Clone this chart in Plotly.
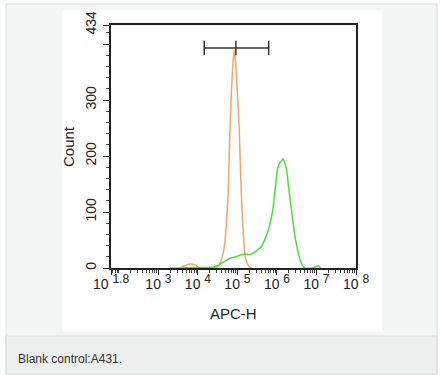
import plotly.graph_objects as go

# ---- data ----
# blank control (orange) histogram: APC-H values and counts
orange_x = [2.0e3, 3.2e3, 4.0e3, 5.0e3, 6.3e3, 8.0e3, 1.0e4, 1.26e4, 2.0e4, 2.5e4,
            3.2e4, 3.6e4, 4.2e4, 4.8e4, 5.2e4, 5.8e4, 6.3e4, 6.9e4, 7.6e4, 8.3e4,
            9.1e4, 1.0e5, 1.1e5, 1.2e5, 1.32e5, 1.45e5, 1.58e5, 1.78e5, 2.0e5, 2.24e5]
orange_y = [0, 0, 2, 5, 7, 6, 2, 0, 0, 0,
            3, 8, 22, 45, 75, 130, 220, 300, 360, 389,
            362, 310, 255, 170, 95, 45, 20, 8, 2, 0]

# sample (green) histogram
green_x = [4.0e3, 6.3e3, 1.0e4, 1.6e4, 2.5e4, 3.2e4, 4.0e4, 5.0e4, 6.3e4, 8.0e4,
           1.0e5, 1.26e5, 1.58e5, 2.0e5, 2.5e5, 3.2e5, 4.0e5, 5.0e5, 6.3e5, 8.0e5,
           1.0e6, 1.12e6, 1.26e6, 1.41e6, 1.58e6, 1.78e6, 2.0e6, 2.4e6, 2.8e6, 3.2e6,
           3.7e6, 4.3e6, 4.9e6, 8.0e6, 1.0e7, 1.12e7, 1.26e7]
green_y = [0, 1, 1, 1, 2, 4, 9, 13, 17, 19,
           21, 24, 25, 24, 26, 32, 38, 52, 72, 108,
           170, 185, 190, 195, 188, 172, 140, 98, 60, 38,
           18, 6, 0, 0, 3, 4, 0]

# marker gate (bracket)
gate_low, gate_mid, gate_high = 10 ** 4.16, 10 ** 4.96, 10 ** 5.79
gate_y, gate_cap = 393, 13

# axis ticks
x_tickvals = [10 ** 1.8, 1e3, 1e4, 1e5, 1e6, 1e7, 1e8]
x_exponents = ["1.8", "3", "4", "5", "6", "7", "8"]
x_ticktext = ["10 <sup><span style='font-size:12px'>%s</span></sup>" % e for e in x_exponents]
y_tickvals = [0, 100, 200, 300, 400, 434]
y_ticktext = ["0", "100", "200", "300", "", "434"]

caption = "Blank control:A431."

# ---- geometry helpers (figure pixels -> paper coords) ----
W, H = 440, 375
L, R, T, B = 111, 84, 25, 107
pw, ph = W - L - R, H - T - B


def px(x):
    return (x - L) / pw


def py(y):
    return (H - B - y) / ph


FONT = "Liberation Sans, Arial, sans-serif"

fig = go.Figure()

fig.add_trace(go.Scatter(x=orange_x, y=orange_y, mode="lines",
                         line=dict(color="#f2a46c", width=1.5, shape="spline", smoothing=0.4),
                         hoverinfo="skip", showlegend=False))
fig.add_trace(go.Scatter(x=green_x, y=green_y, mode="lines",
                         line=dict(color="#4fdc3f", width=1.5, shape="spline", smoothing=0.4),
                         hoverinfo="skip", showlegend=False))

# bracket (gate)
bx = [gate_low, gate_high, None, gate_low, gate_low, None, gate_mid, gate_mid, None, gate_high, gate_high]
by = [gate_y, gate_y, None, gate_y - gate_cap, gate_y + gate_cap, None,
      gate_y - gate_cap, gate_y + gate_cap, None, gate_y - gate_cap, gate_y + gate_cap]
fig.add_trace(go.Scatter(x=bx, y=by, mode="lines", line=dict(color="#333333", width=1.5),
                         hoverinfo="skip", showlegend=False))

shapes = [
    # outer panel
    dict(type="rect", xref="paper", yref="paper", x0=px(6), x1=px(437), y0=py(374), y1=py(4),
         fillcolor="#f4f5f5", line=dict(color="#dcdddd", width=1), layer="below"),
    # caption strip
    dict(type="rect", xref="paper", yref="paper", x0=px(6), x1=px(437), y0=py(374), y1=py(336),
         fillcolor="#edeeee", line=dict(color="#dcdddd", width=1), layer="below"),
    # white image area
    dict(type="rect", xref="paper", yref="paper", x0=px(62), x1=px(382), y0=py(331), y1=py(10),
         fillcolor="#ffffff", line=dict(width=0), layer="below"),
]

annotations = [
    dict(text="Count", xref="paper", yref="paper", x=px(68), y=py(147), textangle=-90,
         showarrow=False, xanchor="center", yanchor="middle",
         font=dict(family=FONT, size=15, color="#222")),
    dict(text="APC-H", xref="paper", yref="paper", x=px(233), y=py(313),
         showarrow=False, xanchor="center", yanchor="middle",
         font=dict(family=FONT, size=15, color="#222")),
    dict(text=caption, xref="paper", yref="paper", x=px(16), y=py(359),
         showarrow=False, xanchor="left", yanchor="middle",
         font=dict(family=FONT, size=12, color="#333")),
]

fig.update_layout(
    width=W, height=H,
    margin=dict(l=L, r=R, t=T, b=B),
    paper_bgcolor="#ffffff", plot_bgcolor="#ffffff",
    shapes=shapes, annotations=annotations,
    font=dict(family=FONT, size=12, color="#222"),
    xaxis=dict(type="log", range=[1.8, 8], tickmode="array", tickvals=x_tickvals,
               ticktext=x_ticktext, ticks="outside", ticklen=5, tickwidth=1.2, tickcolor="#222",
               showline=True, linecolor="#222", linewidth=1.5, mirror=True,
               showgrid=False, zeroline=False, tickfont=dict(size=14), ticklabelstandoff=-3,
               minor=dict(ticks="outside", ticklen=3, tickcolor="#444", dtick="D1", showgrid=False)),
    yaxis=dict(range=[0, 434], tickmode="array", tickvals=y_tickvals, ticktext=y_ticktext,
               ticks="outside", ticklen=6, tickwidth=1.2, tickcolor="#222", tickangle=-90,
               showline=True, linecolor="#222", linewidth=1.5, mirror=True,
               showgrid=False, zeroline=False, tickfont=dict(size=14), ticklabelstandoff=2,
               minor=dict(ticks="outside", ticklen=3, tickcolor="#444", dtick=20, showgrid=False)),
)

fig.write_html("out.html", config={"displayModeBar": False},
               post_script="document.body.style.margin='0';")
